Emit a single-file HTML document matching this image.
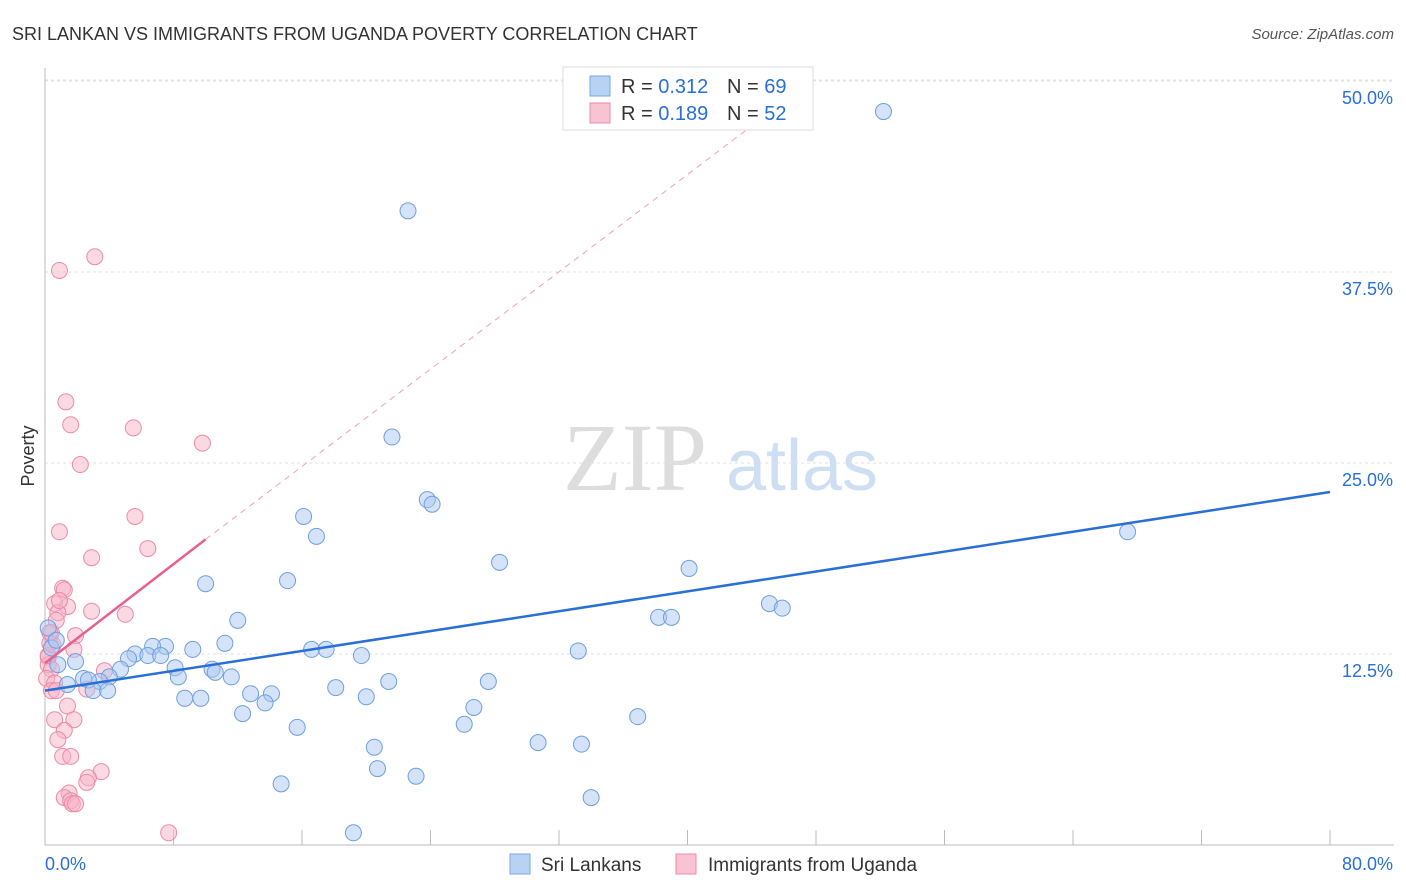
<!DOCTYPE html>
<html><head><meta charset="utf-8">
<style>
body{margin:0;background:#fff;font-family:"Liberation Sans",sans-serif;}
svg{display:block}
</style></head>
<body>
<svg id="chart" width="1406" height="892">
<text x="12" y="40" font-size="18" fill="#333">SRI LANKAN VS IMMIGRANTS FROM UGANDA POVERTY CORRELATION CHART</text>
<text x="1394" y="39" font-size="15" fill="#555" font-style="italic" text-anchor="end">Source: ZipAtlas.com</text>
<g>
<text x="635" y="490" font-family="Liberation Serif,serif" font-size="96" fill="#ddd" text-anchor="middle">ZIP</text>
<text x="802" y="490" font-size="72" fill="#cfdff3" text-anchor="middle">atlas</text>
</g>
<g id="grid"></g>
<g id="axes"></g>
<g id="marks"></g>
<text transform="translate(34,456) rotate(-90)" font-size="18" fill="#333" text-anchor="middle">Poverty</text>
<g>
<rect x="563" y="67" width="250" height="63" fill="#fff" stroke="#ddd"/>
<rect x="590" y="76" width="20" height="20" fill="#b8d2f4" stroke="#7aa6e0"/>
<text x="621" y="93" font-size="20" fill="#333">R = <tspan fill="#2a6fd6">0.312</tspan></text>
<text x="727" y="93" font-size="20" fill="#333">N = <tspan fill="#2a6fd6">69</tspan></text>
<rect x="590" y="103" width="20" height="20" fill="#f8c4d4" stroke="#ee8aa8"/>
<text x="621" y="120" font-size="20" fill="#333">R = <tspan fill="#2a6fd6">0.189</tspan></text>
<text x="727" y="120" font-size="20" fill="#333">N = <tspan fill="#2a6fd6">52</tspan></text>
</g>
<g>
<rect x="510" y="854" width="20" height="20" fill="#b8d2f4" stroke="#7aa6e0"/>
<text x="541" y="871" font-size="19" fill="#333">Sri Lankans</text>
<rect x="676" y="854" width="20" height="20" fill="#f8c4d4" stroke="#ee8aa8"/>
<text x="708" y="871" font-size="19" fill="#333">Immigrants from Uganda</text>
</g>
</svg>
<script>
const yTicks=[12.5,25,37.5,50];
const yTickLabels=["12.5%","25.0%","37.5%","50.0%"];
const xTickLabels=["0.0%","80.0%"];
const blueX=[52.2,22.6,21.6,23.8,24.1,16.1,16.9,28.3,40.1,67.4,10.0,15.1,12.0,45.1,45.9,38.2,39.0,33.2,19.7,16.6,17.5,11.2,9.2,7.5,6.7,5.6,6.4,7.2,5.2,8.1,10.4,10.6,11.6,8.3,4.7,4.0,3.4,2.4,2.7,1.4,3.0,3.9,0.8,1.9,0.4,0.2,0.7,12.8,14.1,13.7,18.1,21.4,27.6,20.0,26.7,8.7,9.7,12.3,36.9,26.1,15.7,20.5,30.7,33.4,20.7,23.1,14.7,34.0,19.2];
const blueY=[48.0,41.5,26.7,22.6,22.3,21.5,20.2,18.5,18.1,20.5,17.1,17.3,14.7,15.8,15.5,14.9,14.9,12.7,12.4,12.8,12.8,13.2,12.8,13.0,13.0,12.5,12.4,12.4,12.2,11.6,11.5,11.3,11.0,11.0,11.5,11.0,10.7,10.9,10.8,10.5,10.1,10.1,11.8,12.0,12.9,14.2,13.4,9.9,9.9,9.3,10.3,10.7,10.7,9.7,9.0,9.6,9.6,8.6,8.4,7.9,7.7,6.4,6.7,6.6,5.0,4.5,4.0,3.1,0.8];
const pinkX=[3.1,0.9,1.3,1.6,5.5,9.8,2.2,5.6,0.9,6.4,2.9,1.1,1.2,0.6,1.4,0.8,2.9,5.0,0.7,1.9,0.4,1.8,0.3,0.2,0.2,0.4,3.7,0.1,0.6,0.4,2.6,1.4,0.6,1.8,1.2,0.8,1.1,1.6,3.5,2.7,2.6,1.5,1.2,1.6,1.7,1.9,7.7,0.7,0.2,0.5,0.9,0.3];
const pinkY=[38.5,37.6,29.0,27.5,27.3,26.3,24.9,21.5,20.5,19.4,18.8,16.8,16.7,15.8,15.6,15.2,15.3,15.1,14.7,13.7,13.9,12.8,13.2,12.3,11.8,11.5,11.4,10.9,10.6,10.1,10.2,9.1,8.2,8.2,7.5,6.9,5.8,5.8,4.8,4.4,4.1,3.4,3.1,2.9,2.7,2.7,0.8,10.1,12.4,13.1,16.0,13.9];
const blueLine=[[0,10.1],[80,23.1]];
const pinkLine=[[0,11.9],[10,20.0]];
const pinkDash=[[10,20.0],[44.8,47.7]];

const NS="http://www.w3.org/2000/svg";
const X0=45,X1=1330,Y0=845,PX=(X1-X0)/80,PY=191/12.5;
const sx=v=>X0+v*PX, sy=v=>Y0-v*PY;
function mk(tag,attrs,parent){const e=document.createElementNS(NS,tag);for(const k in attrs)e.setAttribute(k,attrs[k]);parent.appendChild(e);return e;}
const grid=document.getElementById('grid'),axes=document.getElementById('axes'),marks=document.getElementById('marks');
yTicks.forEach((t,i)=>{
 const l=mk('line',{x1:45,x2:1394,y1:sy(t),y2:sy(t),stroke:'#e2e2e2','stroke-dasharray':'3,3'},grid);
 
 
 const tx=mk('text',{x:1393,y:sy(t)+23,'font-size':18,fill:'#2a6fd6','text-anchor':'end'},axes);
 tx.textContent=yTickLabels[i];
 
 
});
mk('line',{x1:45,x2:1394,y1:80,y2:80,stroke:'#e2e2e2','stroke-dasharray':'3,3'},grid);
mk('line',{x1:45,x2:45,y1:68,y2:845,stroke:'#bbb'},axes);
mk('line',{x1:45,x2:1394,y1:845,y2:845,stroke:'#bbb'},axes);
for(let i=0;i<=10;i++){const t=mk('line',{x1:sx(i*8),x2:sx(i*8),y1:830,y2:845,stroke:'#bbb'},axes);
 
 }
const xl0=mk('text',{x:45,y:870,'font-size':18,fill:'#2a6fd6'},axes);xl0.textContent=xTickLabels[0];


const xl1=mk('text',{x:1393,y:870,'font-size':18,fill:'#2a6fd6','text-anchor':'end'},axes);xl1.textContent=xTickLabels[1];


function dots(xs,ys,fill,stroke,name){xs.forEach((x,i)=>{const c=mk('circle',{cx:sx(x),cy:sy(ys[i]),r:8,fill:fill,'fill-opacity':0.5,stroke:stroke,'stroke-width':1},marks);
 
 });}
dots(pinkX,pinkY,'#f6b3c8','#ec8aa8','uganda-point');
dots(blueX,blueY,'#a9c7f0','#6e9fe0','sri-lankan-point');
const bl=mk('line',{x1:sx(blueLine[0][0]),y1:sy(blueLine[0][1]),x2:sx(blueLine[1][0]),y2:sy(blueLine[1][1]),stroke:'#2a6fd6','stroke-width':2.5},marks);


const pd=mk('line',{x1:sx(pinkDash[0][0]),y1:sy(pinkDash[0][1]),x2:sx(pinkDash[1][0]),y2:sy(pinkDash[1][1]),stroke:'#f0a0b8','stroke-width':1,'stroke-dasharray':'6,5'},marks);


const pl=mk('line',{x1:sx(pinkLine[0][0]),y1:sy(pinkLine[0][1]),x2:sx(pinkLine[1][0]),y2:sy(pinkLine[1][1]),stroke:'#e8608f','stroke-width':2.5},marks);


</script>
</body></html>
